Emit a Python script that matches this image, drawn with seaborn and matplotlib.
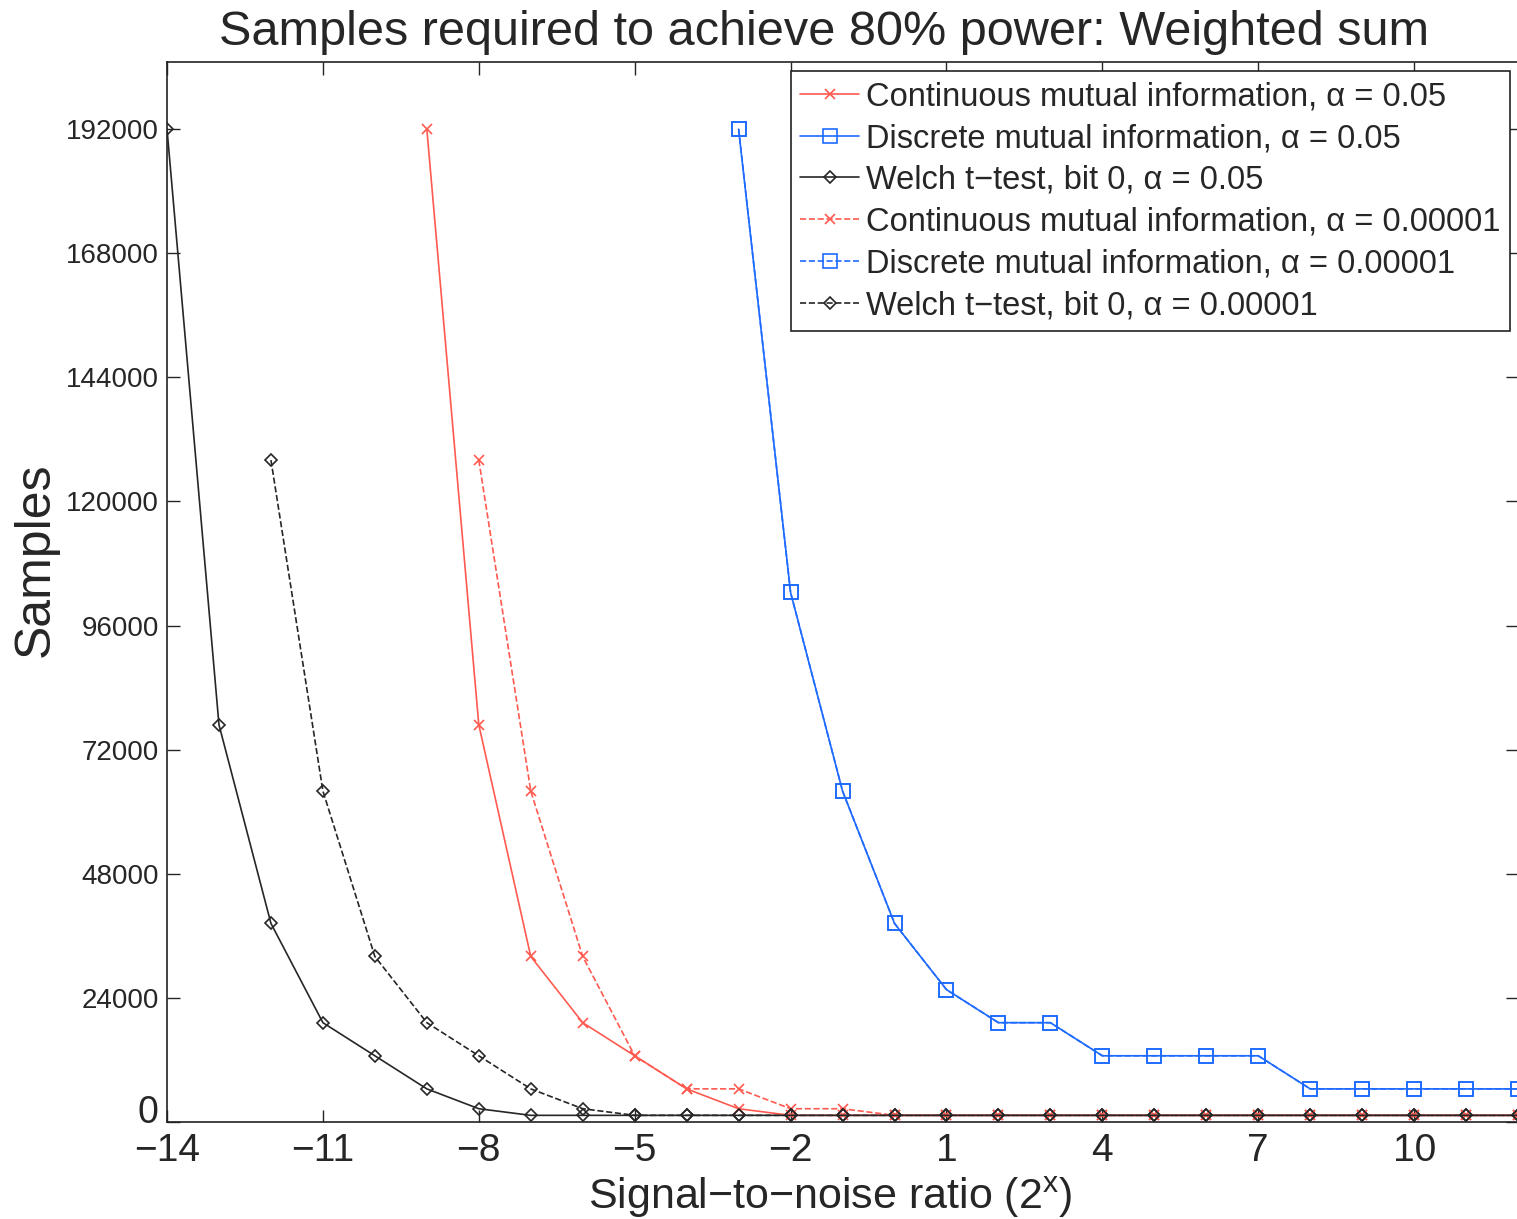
import matplotlib
matplotlib.use("Agg")
import matplotlib.pyplot as plt
import matplotlib.transforms as mtransforms
import seaborn as sns
import pandas as pd

# SNR exponent on the x axis (2^x)
snr = list(range(-14, 13))

# samples needed (None = not reached)
cont_mi_05 = [None] * 5 + [192000, 76800, 32000, 19200, 12800, 6400, 2560] + [1280] * 15
disc_mi_05 = [None] * 11 + [192000, 102400, 64000, 38400, 25600, 19200, 19200,
                            12800, 12800, 12800, 12800, 6400, 6400, 6400, 6400, 6400]
welch_05 = [192000, 76800, 38400, 19200, 12800, 6400, 2560] + [1280] * 20
cont_mi_1e5 = [None] * 6 + [128000, 64000, 32000, 12800, 6400, 6400, 2560, 2560] + [1280] * 13
disc_mi_1e5 = list(disc_mi_05)
welch_1e5 = [None] * 2 + [128000, 64000, 32000, 19200, 12800, 6400, 2560] + [1280] * 18

labels = ["Continuous mutual information, α = 0.05",
          "Discrete mutual information, α = 0.05",
          "Welch t\u2212test, bit 0, α = 0.05",
          "Continuous mutual information, α = 0.00001",
          "Discrete mutual information, α = 0.00001",
          "Welch t\u2212test, bit 0, α = 0.00001"]

yticks = list(range(0, 192001, 24000))
xticks = list(range(-14, 11, 3))

sns.set_style("ticks")
plt.rcParams['font.family'] = ['Liberation Sans', 'DejaVu Sans']
plt.rcParams['axes.unicode_minus'] = True

red = "#ff5a50"
blue = "#1f6bff"
black = "#262626"

series = [
    (cont_mi_05, red, "x", "-", 7, 3),
    (disc_mi_05, blue, "s", "-", 10, 4),
    (welch_05, black, "D", "-", 6.5, 3),
    (cont_mi_1e5, red, "x", "--", 7, 2),
    (disc_mi_1e5, blue, "s", "--", 10, 2),
    (welch_1e5, black, "D", "--", 6.5, 2),
]

fig = plt.figure(figsize=(15.17, 12.19), dpi=100)
ax = fig.add_axes([0.1101, 0.0796, 0.8906, 0.8696])

for (vals, col, mk, ls, ms, z), lab in zip(series, labels):
    df = pd.DataFrame({"snr": snr, "samples": vals}).dropna()
    sns.lineplot(data=df, x="snr", y="samples", ax=ax, color=col, marker=mk,
                 linestyle=ls, linewidth=1.2, markersize=ms,
                 markerfacecolor="none", markeredgecolor=col, markeredgewidth=1.2,
                 dashes=(8, 6) if ls == "--" else None, label=lab, zorder=z)

ax.set_xlim(-14, 12)
ax.set_ylim(0, 205000)
ax.set_xticks(xticks)
ax.set_xticklabels([str(t).replace("-", "\u2212") for t in xticks], fontsize=28)
ax.set_yticks(yticks)
ax.set_yticklabels([str(t) for t in yticks], fontsize=20)
ax.tick_params(direction="in", top=True, right=True, length=9, width=1, pad=6)
ax.tick_params(axis="x", pad=8)
# the zero label is drawn larger and a little higher in the original
zero = ax.get_yticklabels()[0]
zero.set_fontsize(27)
zero.set_transform(zero.get_transform() +
                   mtransforms.ScaledTranslation(0, 0.13, fig.dpi_scale_trans))
for sp in ax.spines.values():
    sp.set_linewidth(1.2)
    sp.set_color("#222222")

ax.set_title("Samples required to achieve 80% power: Weighted sum", fontsize=35,
             pad=12, x=0.486)
ax.set_xlabel("Signal\u2212to\u2212noise ratio (2$^\\mathregular{x}$)", fontsize=31,
              labelpad=4, x=0.491)
ax.set_ylabel("Samples", fontsize=36)
ax.yaxis.set_label_coords(-0.08, 0.53)

leg = ax.legend(loc="upper right", bbox_to_anchor=(0.994, 0.991), fontsize=23.5,
                frameon=True, fancybox=False, edgecolor="#222222", framealpha=1,
                handlelength=1.8, handletextpad=0.2, labelspacing=0.33,
                borderpad=0.3, borderaxespad=0)
leg.get_frame().set_linewidth(1.2)

fig.savefig("out.png", dpi=100)
